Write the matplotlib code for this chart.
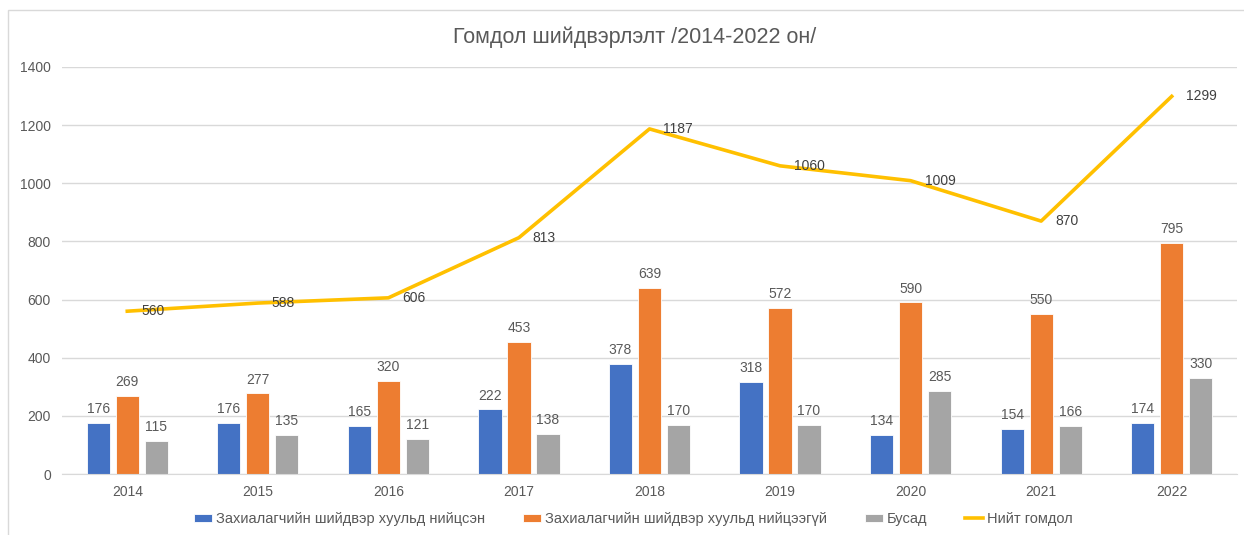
import numpy as np
import matplotlib.pyplot as plt
from matplotlib.patches import Rectangle

years = ['2014', '2015', '2016', '2017', '2018', '2019', '2020', '2021', '2022']
niitssen = [176, 176, 165, 222, 378, 318, 134, 154, 174]
niitseegui = [269, 277, 320, 453, 639, 572, 590, 550, 795]
busad = [115, 135, 121, 138, 170, 170, 285, 166, 330]
niit = [560, 588, 606, 813, 1187, 1060, 1009, 870, 1299]

plt.rcParams['font.family'] = ['Liberation Sans', 'DejaVu Sans']
txt = '#595959'

fig = plt.figure(figsize=(12.44, 5.35), dpi=100)
ax = fig.add_axes([62 / 1244, 1 - 474 / 535, 1175 / 1244, 407 / 535])

x = np.arange(len(years))
w = 0.178
step = 0.222
series = [(niitssen, '#4472C4', 'Захиалагчийн шийдвэр хуульд нийцсэн'),
          (niitseegui, '#ED7D31', 'Захиалагчийн шийдвэр хуульд нийцээгүй'),
          (busad, '#A5A5A5', 'Бусад')]
handles = []
for i, (vals, col, lab) in enumerate(series):
    pos = x + (i - 1) * step
    b = ax.bar(pos, vals, w, color=col, label=lab, edgecolor='white', linewidth=0.6, zorder=2)
    handles.append(b)
    for p, v in zip(pos, vals):
        ax.annotate(str(v), (p, v), xytext=(0, 5), textcoords='offset points',
                    ha='center', va='bottom', fontsize=10, color=txt)

ln, = ax.plot(x, niit, color='#FFC000', linewidth=2.6, label='Нийт гомдол', zorder=3)
handles.append(ln)
for xi, v in zip(x, niit):
    ax.annotate(str(v), (xi, v), xytext=(10, 0), textcoords='offset points',
                ha='left', va='center', fontsize=10, color='#404040', zorder=4)

ax.set_xlim(-0.5, len(years) - 0.5)
ax.set_ylim(0, 1400)
ax.set_yticks(range(0, 1401, 200))
ax.set_xticks(x)
ax.set_xticklabels(years)
ax.tick_params(length=0, colors=txt, labelsize=10, pad=8)
ax.grid(axis='y', color='#D9D9D9', linewidth=1, zorder=0)
for s in ['top', 'right', 'left']:
    ax.spines[s].set_visible(False)
ax.spines['bottom'].set_color('#D9D9D9')

fig.text(0.51, 1 - 37 / 535, 'Гомдол шийдвэрлэлт /2014-2022 он/', ha='center', va='center',
         fontsize=15.5, color=txt)

fig.legend(handles=handles, labels=[h.get_label() for h in handles],
           loc='center', bbox_to_anchor=(0.509, 1 - 519 / 535), ncol=4, frameon=False,
           fontsize=10.5, labelcolor=txt, handlelength=1.25, handleheight=0.45,
           columnspacing=2.6, handletextpad=0.25)

fig.patches.append(Rectangle((8 / 1244, -0.1), 1.2, 1 - 10 / 535 + 0.1, transform=fig.transFigure,
                             fill=False, edgecolor='#D9D9D9', linewidth=1))

fig.savefig('out.png', dpi=100)
